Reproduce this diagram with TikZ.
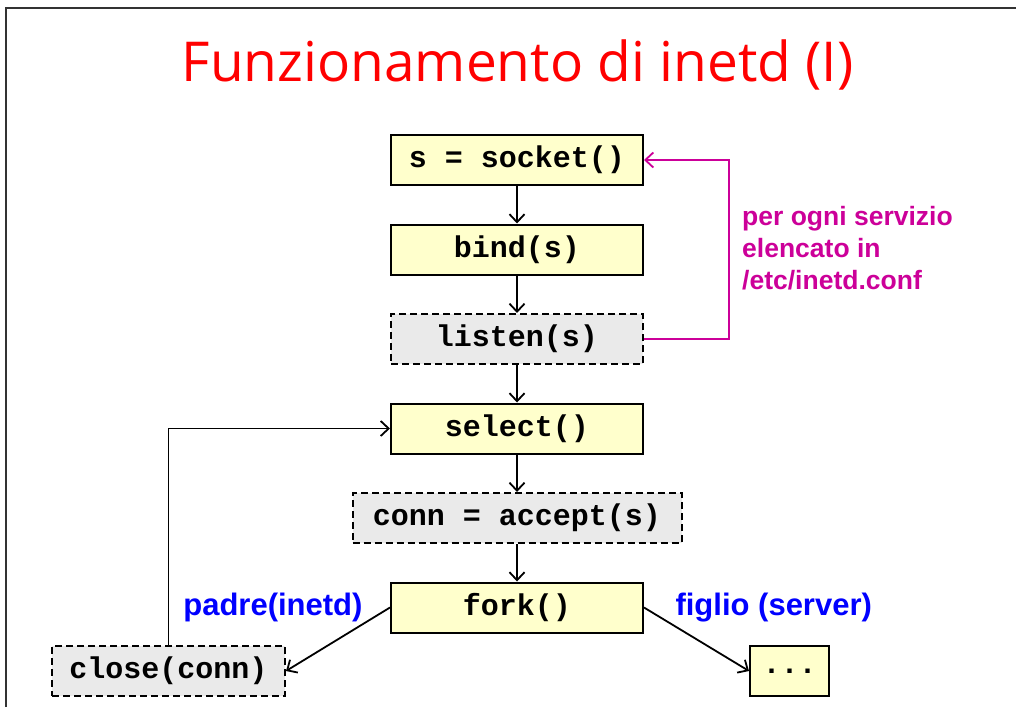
\documentclass[tikz,border=0pt]{standalone}
\usepackage{fontspec}
\setmainfont{Liberation Sans}
\newfontfamily\codefont{Liberation Mono}
\newfontfamily\titlefont{Open Sans}
\usetikzlibrary{arrows.meta, positioning}
\definecolor{callyellow}{HTML}{FFFFCC}
\definecolor{callgray}{HTML}{EAEAEA}
\definecolor{notemagenta}{HTML}{CC0099}

\begin{document}
\begin{tikzpicture}[x=1pt, y=-1pt, node distance=37.5pt,
  call/.style={draw, line width=2pt, fill=callyellow, minimum width=252pt, minimum height=50pt,
    inner sep=0pt, font=\codefont\bfseries\fontsize{30pt}{36pt}\selectfont},
  blocking/.style={call, fill=callgray, dash pattern=on 7pt off 4pt},
  flow/.style={line width=1.8pt, -{Straight Barb[length=8pt,width=15pt,line width=1.8pt]}},
  side/.style={font=\bfseries\fontsize{31pt}{36pt}\selectfont, text=blue}]
  \useasboundingbox (0,0) rectangle (1016,707);
  % Slide frame
  \draw[gray!40!black, line width=2pt] (6,707) -- (6,8) -- (1016,8);
  % Title
  \node[font=\titlefont\fontsize{55pt}{62pt}\selectfont, text=red, anchor=base] (title) at (517.5,81) {Funzionamento di inetd (I)};
  % Main column
  \node[call] (socket) at (517,160) {s = socket()};
  \node[call, below=of socket] (bind) {bind(s)};
  \node[blocking, below=of bind] (listen) {listen(s)};
  \node[call, below=of listen] (select) {select()};
  \node[blocking, below=of select, minimum width=329pt] (accept) {conn = accept(s)};
  \node[call, below=of accept] (fork) {fork()};
  % Parent and child
  \node[blocking, minimum width=233pt] (close) at (168.5,671) {close(conn)};
  \node[call, minimum width=79pt] (dots) at (789.5,671) {...};
  \node[side, left=24pt of fork] (parent) {padre(inetd)};
  \node[side, right=28pt of fork] (child) {figlio (server)};
  % Arrows
  \draw[flow] (socket) -- (bind);
  \draw[flow] (bind) -- (listen);
  \draw[flow] (listen) -- (select);
  \draw[flow] (select) -- (accept);
  \draw[flow] (accept) -- (fork);
  \draw[flow] (fork.west) -- (close.east);
  \draw[flow] (fork.east) -- (dots.west);
  \draw[flow] (close.north) |- (select.west);
  % Loop over services
  \draw[flow, notemagenta, line width=2.2pt] (listen.east) -- ++(85,0) |- (socket.east);
  \node[anchor=north west, inner sep=0pt, align=left, text=notemagenta,
    font=\bfseries\fontsize{26.5pt}{32pt}\selectfont] (note) at (742,206)
    {per ogni servizio\\elencato in\\/etc/inetd.conf};
\end{tikzpicture}
\end{document}
